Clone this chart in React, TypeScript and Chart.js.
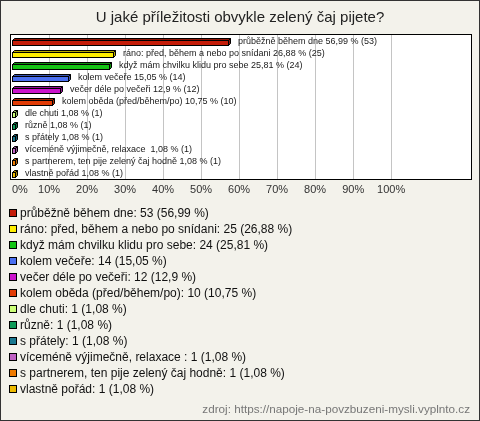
import React, { useEffect, useRef } from "react";
import { Chart, registerables } from "chart.js";

Chart.register(...registerables);

const TITLE = "U jaké příležitosti obvykle zelený čaj pijete?";
const SOURCE = "zdroj: https://napoje-na-povzbuzeni-mysli.vyplnto.cz";

const categories = [
  "průběžně během dne",
  "ráno: před, během a nebo po snídani",
  "když mám chvilku klidu pro sebe",
  "kolem večeře",
  "večer déle po večeři",
  "kolem oběda (před/během/po)",
  "dle chuti",
  "různě",
  "s přátely",
  "víceméně výjimečně, relaxace ",
  "s partnerem, ten pije zelený čaj hodně",
  "vlastně pořád",
];
const counts = [53, 25, 24, 14, 12, 10, 1, 1, 1, 1, 1, 1];
const percents = [56.99, 26.88, 25.81, 15.05, 12.9, 10.75, 1.08, 1.08, 1.08, 1.08, 1.08, 1.08];
const percentText = ["56,99", "26,88", "25,81", "15,05", "12,9", "10,75", "1,08", "1,08", "1,08", "1,08", "1,08", "1,08"];
const xTicks = [0, 10, 20, 30, 40, 50, 60, 70, 80, 90, 100];

const colors = [
  "#c41c08",
  "#ffee00",
  "#14c414",
  "#4a6ff0",
  "#cc14cc",
  "#e23c06",
  "#ccff78",
  "#0f9a58",
  "#1a7890",
  "#c062c4",
  "#ee7a00",
  "#eebb00",
];

function darker(hex: string, f: number) {
  const n = parseInt(hex.slice(1), 16);
  const r = Math.round(((n >> 16) & 255) * f);
  const g = Math.round(((n >> 8) & 255) * f);
  const b = Math.round((n & 255) * f);
  return `rgb(${r},${g},${b})`;
}

const FONT = '"Liberation Sans", Arial, sans-serif';

const deco = {
  id: "deco",
  beforeDraw(chart: any) {
    const { ctx, chartArea: a } = chart;
    ctx.save();
    ctx.fillStyle = "#f3f2eb";
    ctx.fillRect(0, 0, chart.width, chart.height);
    ctx.strokeStyle = "#333";
    ctx.lineWidth = 1;
    ctx.strokeRect(0.5, 0.5, chart.width - 1, chart.height - 1);
    ctx.fillStyle = "#ffffff";
    ctx.fillRect(a.left, a.top, a.right - a.left, a.bottom - a.top);
    ctx.fillStyle = "#222";
    ctx.font = `15px ${FONT}`;
    ctx.textAlign = "center";
    ctx.textBaseline = "middle";
    ctx.fillText(TITLE, chart.width / 2, 18);
    ctx.restore();
  },
  afterDatasetsDraw(chart: any) {
    const { ctx, chartArea: a } = chart;
    const meta = chart.getDatasetMeta(0);
    const xs = chart.scales.x;
    ctx.save();
    ctx.lineWidth = 1;
    meta.data.forEach((el: any, i: number) => {
      const p = el.getProps(["x", "y", "base", "height"], true);
      const x0 = Math.round(p.base) + 0.5;
      const x1 = Math.round(p.x) + 0.5;
      const h = Math.round(p.height);
      const top = Math.round(p.y - h / 2) + 0.5 + 1;
      const d = 2;
      const c = colors[i];
      const dc = darker(c, 0.72);
      ctx.beginPath();
      ctx.moveTo(x0, top);
      ctx.lineTo(x0 + d, top - d);
      ctx.lineTo(x1 + d, top - d);
      ctx.lineTo(x1, top);
      ctx.closePath();
      ctx.fillStyle = dc;
      ctx.fill();
      ctx.strokeStyle = "#000";
      ctx.stroke();
      ctx.beginPath();
      ctx.moveTo(x1, top);
      ctx.lineTo(x1 + d, top - d);
      ctx.lineTo(x1 + d, top - d + h);
      ctx.lineTo(x1, top + h);
      ctx.closePath();
      ctx.fillStyle = dc;
      ctx.fill();
      ctx.stroke();
      ctx.fillStyle = c;
      ctx.fillRect(x0, top, x1 - x0, h);
      ctx.strokeRect(x0, top, x1 - x0, h);
      ctx.fillStyle = "#1a1a1a";
      ctx.font = `9px ${FONT}`;
      ctx.textAlign = "left";
      ctx.textBaseline = "middle";
      ctx.fillText(
        `${categories[i]} ${percentText[i]} % (${counts[i]})`,
        Math.round(p.x) + 10,
        p.y + 0.5
      );
    });
    ctx.strokeStyle = "#000";
    ctx.strokeRect(a.left - 0.5, a.top - 0.5, a.right - a.left + 1, a.bottom - a.top + 1);
    ctx.fillStyle = "#333";
    ctx.font = `11px ${FONT}`;
    ctx.textBaseline = "middle";
    xTicks.forEach((v) => {
      const x = xs.getPixelForValue(v);
      ctx.textAlign = v === 0 ? "left" : "center";
      ctx.fillText(`${v}%`, v === 0 ? x + 1 : x, 190);
    });
    ctx.font = `12px ${FONT}`;
    ctx.textAlign = "left";
    categories.forEach((cat, i) => {
      const y = 213 + 16 * i;
      ctx.fillStyle = colors[i];
      ctx.fillRect(9.5, y - 3.5, 7, 7);
      ctx.strokeStyle = "#000";
      ctx.strokeRect(9.5, y - 3.5, 7, 7);
      ctx.fillStyle = "#111";
      ctx.fillText(`${cat}: ${counts[i]} (${percentText[i]} %)`, 20, y + 0.5);
    });
    ctx.fillStyle = "#777";
    ctx.font = `11.7px ${FONT}`;
    ctx.textAlign = "right";
    ctx.fillText(SOURCE, 470, 410);
    ctx.restore();
  },
};

export default function App() {
  const ref = useRef<HTMLCanvasElement>(null);
  useEffect(() => {
    document.body.style.margin = "0";
    const chart = new Chart(ref.current as HTMLCanvasElement, {
      type: "bar",
      data: {
        labels: categories,
        datasets: [
          {
            data: percents,
            backgroundColor: "rgba(0,0,0,0)",
            borderWidth: 0,
            barThickness: 5,
          },
        ],
      },
      options: {
        indexAxis: "y",
        responsive: false,
        animation: false,
        devicePixelRatio: 1,
        layout: { padding: { left: 11, right: 9, top: 35, bottom: 242 } },
        plugins: { legend: { display: false }, tooltip: { enabled: false }, title: { display: false } },
        scales: {
          x: {
            min: 0,
            max: 121,
            ticks: { display: false, stepSize: 10 },
            border: { display: false },
            grid: {
              drawTicks: false,
              color: (c: any) =>
                c.tick && c.tick.value > 0 && c.tick.value <= 100 ? "#c4c4c4" : "rgba(0,0,0,0)",
            },
          },
          y: { display: false },
        },
      },
      plugins: [deco],
    } as any);
    return () => chart.destroy();
  }, []);
  return (
    <div style={{ width: 480, height: 421 }}>
      <canvas ref={ref} width={480} height={421} style={{ display: "block" }} />
    </div>
  );
}
